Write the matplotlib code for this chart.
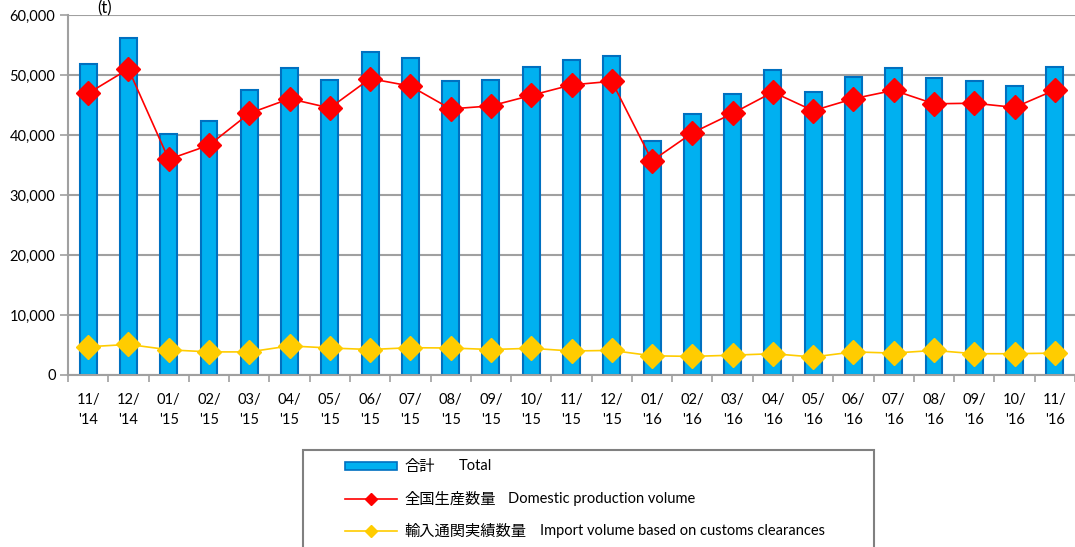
import matplotlib
matplotlib.use("Agg")
import matplotlib.pyplot as plt
from matplotlib.patches import Rectangle
from matplotlib.lines import Line2D
import numpy as np

months = ["11/\n'14", "12/\n'14", "01/\n'15", "02/\n'15", "03/\n'15", "04/\n'15", "05/\n'15",
          "06/\n'15", "07/\n'15", "08/\n'15", "09/\n'15", "10/\n'15", "11/\n'15", "12/\n'15",
          "01/\n'16", "02/\n'16", "03/\n'16", "04/\n'16", "05/\n'16", "06/\n'16", "07/\n'16",
          "08/\n'16", "09/\n'16", "10/\n'16", "11/\n'16"]
total = [51800, 56200, 40200, 42300, 47550, 51100, 49100,
         53800, 52900, 48950, 49200, 51300, 52500, 53200,
         38950, 43550, 46900, 50850, 47200, 49700, 51200,
         49450, 49050, 48200, 51300]
domestic = [46950, 51000, 35950, 38300, 43600, 46050, 44500,
            49400, 48150, 44350, 44850, 46600, 48350, 48950,
            35700, 40350, 43600, 47150, 44050, 46050, 47450,
            45200, 45300, 44600, 47500]
imports = [4700, 5100, 4200, 3850, 3850, 4850, 4500,
           4250, 4550, 4500, 4250, 4450, 4000, 4100,
           3200, 3100, 3300, 3550, 3000, 3850, 3650,
           4100, 3550, 3550, 3650]
yticks = [0, 10000, 20000, 30000, 40000, 50000, 60000]

W, H = 1075, 547
fig = plt.figure(figsize=(W / 100, H / 100), dpi=100)
ax = fig.add_axes([68 / W, 1 - 375 / H, (1075 - 68) / W, 360 / H])

x = np.arange(len(months))
ax.bar(x, total, width=0.42, color="#00B0F0", edgecolor="#0070C0", linewidth=1.5, zorder=2)
ax.plot(x, domestic, color="#FF0000", lw=1.2, marker="D", markersize=12, zorder=4)
ax.plot(x, imports, color="#FFCC00", lw=1.2, marker="D", markersize=12, zorder=4)

ax.set_xlim(-0.5, len(months) - 0.5)
ax.set_ylim(0, 60000)
ax.set_yticks(yticks)
ax.set_yticklabels([f"{v:,}" for v in yticks], fontsize=10.5, family="Lato")
ax.yaxis.grid(True, color="#A0A0A0", lw=1.5, zorder=0)
ax.set_axisbelow(True)
ax.set_xticks(x)
ax.set_xticklabels(months, fontsize=10.5, family="Lato", linespacing=1.55)
ax.set_xticks(np.arange(len(months) + 1) - 0.5, minor=True)
ax.tick_params(axis="x", which="major", length=0, pad=13)
ax.tick_params(axis="x", which="minor", length=5, color="#A0A0A0", width=1.2)
ax.tick_params(axis="y", length=6, color="#A0A0A0", width=1.2, pad=3)
for s in ["top", "right"]:
    ax.spines[s].set_visible(False)
ax.spines["left"].set_color("#A0A0A0")
ax.spines["left"].set_linewidth(1.5)
ax.spines["bottom"].set_color("#A0A0A0")
ax.spines["bottom"].set_linewidth(1.5)

fig.text(105 / W, 1 - 8 / H, "(t)", fontsize=12, family="Lato", ha="center", va="center")

# legend box
lx0, ly0, lx1, ly1 = 303, 450, 874, 560
fig.patches.append(Rectangle((lx0 / W, 1 - ly1 / H), (lx1 - lx0) / W, (ly1 - ly0) / H,
                             transform=fig.transFigure, fill=False, edgecolor="#808080", lw=1.5))
rows = [466, 499, 531]
fig.patches.append(Rectangle((345 / W, 1 - (rows[0] + 4) / H), 52 / W, 8 / H, transform=fig.transFigure,
                             facecolor="#00B0F0", edgecolor="#0070C0", lw=1.2))
for yy, col in [(rows[1], "#FF0000"), (rows[2], "#FFCC00")]:
    fig.lines.append(Line2D([345 / W, 397 / W], [1 - yy / H, 1 - yy / H], transform=fig.transFigure,
                            color=col, lw=1.2))
    fig.lines.append(Line2D([371 / W], [1 - yy / H], transform=fig.transFigure,
                            color=col, marker="D", markersize=6, lw=0))
jp = ["合計", "全国生産数量", "輸入通関実績数量"]
en = ["Total", "Domestic production volume", "Import volume based on customs clearances"]
enx = [459, 508, 540]
for yy, j, e, ex in zip(rows, jp, en, enx):
    fig.text(404 / W, 1 - yy / H, j, fontsize=11, family="Noto Sans CJK JP", va="center")
    fig.text(ex / W, 1 - yy / H, e, fontsize=10.5, family="Lato", va="center")

fig.savefig("out.png", dpi=100)
